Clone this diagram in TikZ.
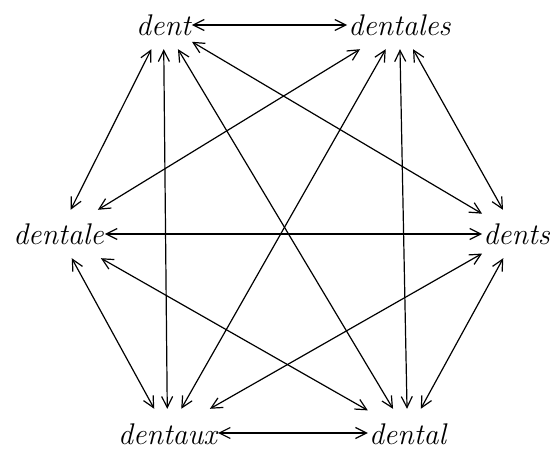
\documentclass[tikz,border=0pt]{standalone}
\usetikzlibrary{arrows.meta}
\begin{document}
\begin{tikzpicture}[x=1bp,y=-1bp,
  word/.style={font=\fontsize{30}{36}\selectfont\itshape, inner xsep=1bp, inner ysep=0bp,
    text height=23bp, text depth=1bp, minimum height=48bp},
  link/.style={line width=1.2bp, {Straight Barb[length=11bp,width=11bp]}-{Straight Barb[length=11bp,width=11bp]}}]
\useasboundingbox (0,0) rectangle (554,454);
\node[word] (dent) at (163.5,25) {dent};
\node[word] (dentales) at (399.5,25) {dentales};
\node[word] (dentale) at (58.5,234) {dentale};
\node[word] (dents) at (516.5,234) {dents};
\node[word] (dentaux) at (167.5,433) {dentaux};
\node[word] (dental) at (407.5,433) {dental};
\foreach \a/\b in {dent/dentales, dent/dentale, dent/dents, dent/dentaux, dent/dental,
  dentales/dentale, dentales/dents, dentales/dentaux, dentales/dental,
  dentale/dents, dentale/dentaux, dentale/dental,
  dents/dentaux, dents/dental, dentaux/dental}
  \draw[link] (\a) -- (\b);
\end{tikzpicture}
\end{document}
